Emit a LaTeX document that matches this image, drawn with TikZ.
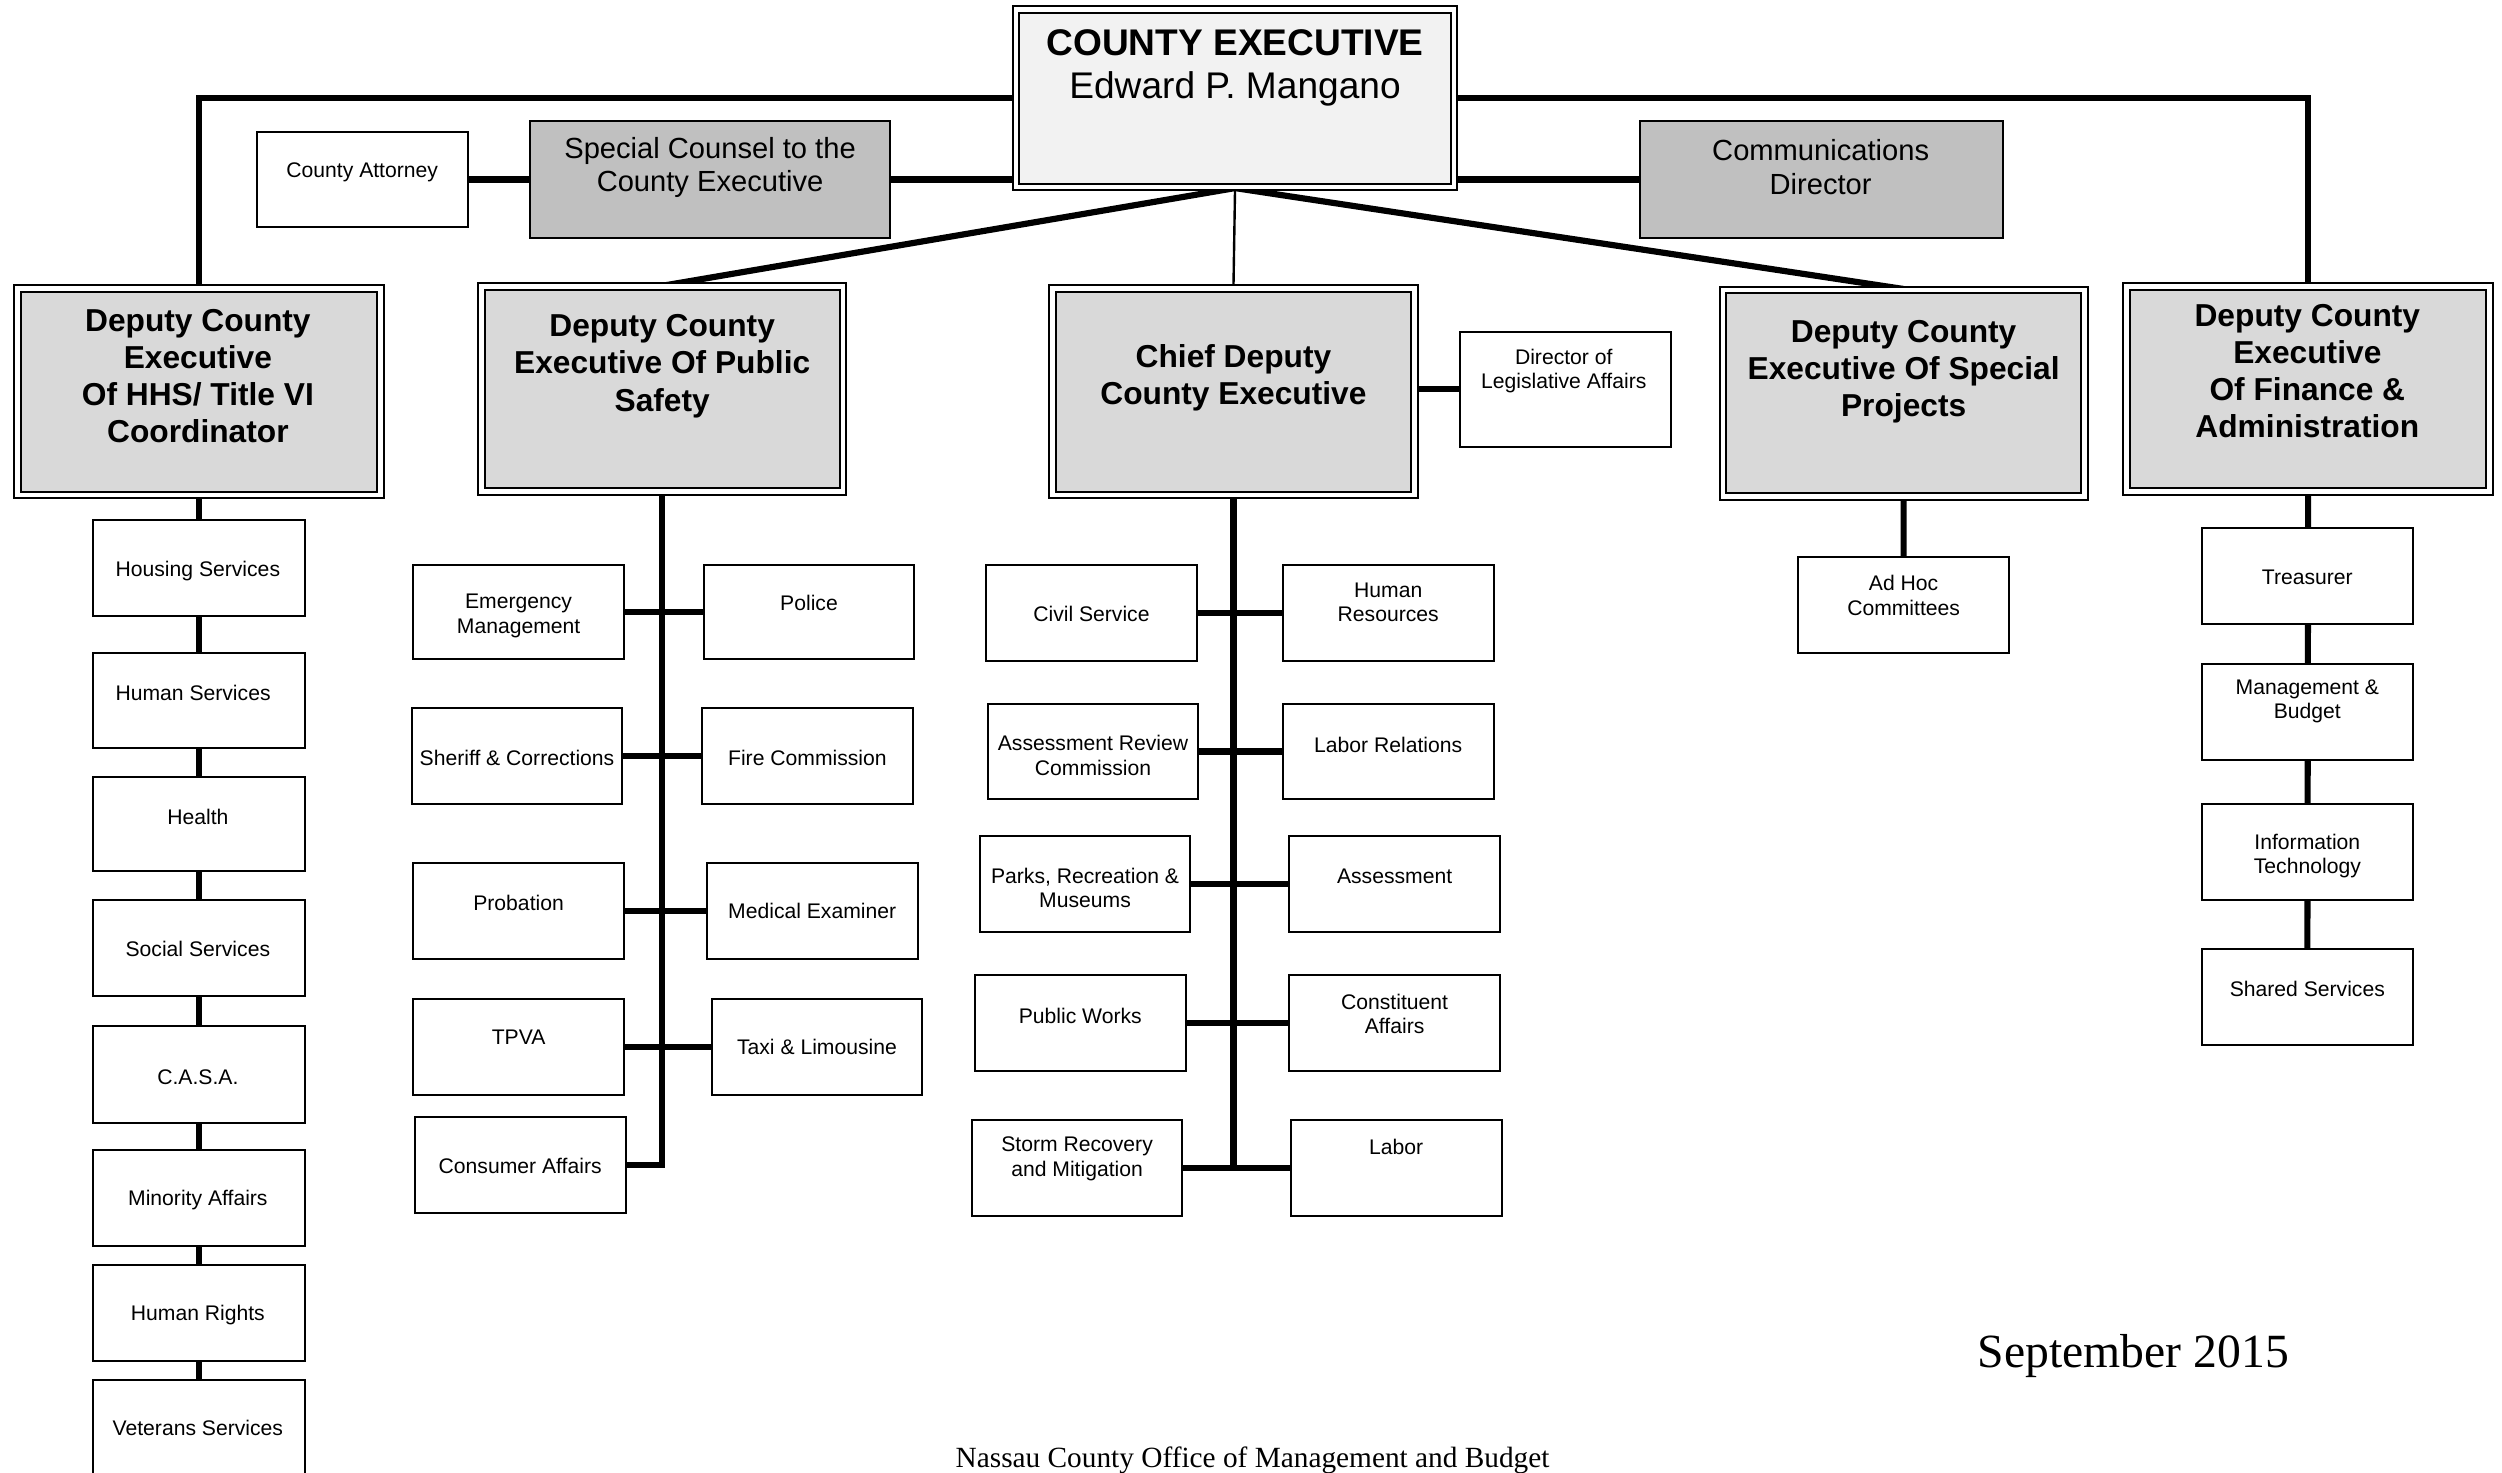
\documentclass[tikz,border=0pt]{standalone}
\usepackage{fontspec}
\setmainfont{Liberation Sans}
\newfontfamily\footfont{Liberation Serif}
\usetikzlibrary{fit,backgrounds}
\definecolor{execgray}{HTML}{F2F2F2}
\definecolor{staffgray}{HTML}{C0C0C0}
\definecolor{deputygray}{HTML}{D9D9D9}

% plain office box: name, top-left corner, bottom-right corner, text position, text
\newcommand\obox[5]{%
  \node[unitbox, fit={(#2) (#3)}] (#1) {};
  \node[smalltxt] (#1-t) at (#4) {#5};}

\begin{document}
\begin{tikzpicture}[x=0.8pt,y=-0.8pt,
  conn/.style={line width=3.1pt},
  thinconn/.style={line width=1.2pt},
  unitbox/.style={draw, line width=1pt, fill=white, inner sep=0pt},
  staffbox/.style={draw, line width=1pt, fill=staffgray, inner sep=0pt},
  deputybox/.style={draw, line width=1pt, double=white, double distance=2.4pt,
                    fill=deputygray, inner sep=0pt},
  execbox/.style={draw, line width=1pt, double=white, double distance=2.4pt,
                  fill=execgray, inner sep=0pt},
  smalltxt/.style={inner sep=0pt, align=center, yshift=-0.8pt,
                   font=\fontsize{10.6}{12.4}\selectfont},
  stafftxt/.style={inner sep=0pt, align=center, yshift=-0.3pt,
                   font=\fontsize{14.6}{16.8}\selectfont},
  deputytxt/.style={inner sep=0pt, align=center, font=\fontsize{15.9}{18.6}\selectfont\bfseries},
  exectxt/.style={inner sep=0pt, align=center, yshift=-1.6pt,
                  font=\fontsize{18.6}{21.6}\selectfont}]

\useasboundingbox (0,0) rectangle (1568,923);

% ---- top level ----
\node[execbox, fit={(636.75,5.75) (911.25,117.25)}] (ce) {};
\node[exectxt] (ce-t) at (774,40.5) {\textbf{COUNTY EXECUTIVE}\\Edward P. Mangano};

\obox{ca}{161,83}{293,142}{227,107}{County Attorney}
\node[staffbox, fit={(332,76) (558,149)}] (sc) {};
\node[stafftxt] (sc-t) at (445,104.5) {Special Counsel to the\\County Executive};
\node[staffbox, fit={(1028,76) (1255,149)}] (comm) {};
\node[stafftxt] (comm-t) at (1141,104.5) {Communications\\Director};

% ---- deputies ----
\node[deputybox, fit={(10.75,180.75) (238.25,310.25)}] (hhs) {};
\node[deputytxt] (hhs-t) at (124,235.5) {Deputy County\\Executive\\Of HHS/ Title VI\\Coordinator};
\node[deputybox, fit={(301.75,179.75) (528.25,308.25)}] (ps) {};
\node[deputytxt] (ps-t) at (415,229.5) {Deputy County\\Executive Of Public\\Safety};
\node[deputybox, fit={(659.75,180.75) (886.25,310.25)}] (cdx) {};
\node[deputytxt] (cdx-t) at (773,236.5) {Chief Deputy\\County Executive};
\node[deputybox, fit={(1079.75,181.75) (1306.25,311.25)}] (sp) {};
\node[deputytxt] (sp-t) at (1193,233) {Deputy County\\Executive Of Special\\Projects};
\node[deputybox, fit={(1332.75,179.75) (1560.25,308.25)}] (fin) {};
\node[deputytxt] (fin-t) at (1446,232.5) {Deputy County\\Executive\\Of Finance \&\\Administration};

\obox{leg}{915,208}{1047,280}{980,231.5}{Director of\\Legislative Affairs}

% ---- HHS departments ----
\obox{housing}{58,326}{191,386}{124,357}{Housing Services}
\obox{humsvc}{58,409}{191,469}{121,433}{Human Services}
\obox{health}{58,487}{191,546}{124,511}{Health}
\obox{social}{58,564}{191,624}{124,594}{Social Services}
\obox{casa}{58,643}{191,704}{124,674}{C.A.S.A.}
\obox{minority}{58,721}{191,781}{124,751}{Minority Affairs}
\obox{rights}{58,793}{191,853}{124,823}{Human Rights}
\obox{veterans}{58,865}{191,935}{124,894}{Veterans Services}

% ---- Public Safety departments ----
\obox{emerg}{259,354}{391,413}{325,385}{Emergency\\Management}
\obox{police}{441,354}{573,413}{507,377}{Police}
\obox{sheriff}{258,444}{390,504}{324,474}{Sheriff \& Corrections}
\obox{fire}{440,444}{572,504}{506,474}{Fire Commission}
\obox{probation}{259,541}{391,601}{325,565}{Probation}
\obox{medex}{443,541}{575,601}{509,570}{Medical Examiner}
\obox{tpva}{259,626}{391,686}{325,649}{TPVA}
\obox{taxi}{446,626}{578,686}{512,655}{Taxi \& Limousine}
\obox{consumer}{260,700}{392,760}{326,730}{Consumer Affairs}

% ---- Chief Deputy departments ----
\obox{civil}{618,354}{750,414}{684,384}{Civil Service}
\obox{hr}{804,354}{936,414}{870,376.5}{Human\\Resources}
\obox{arc}{619,441}{751,501}{685,472.5}{Assessment Review\\Commission}
\obox{laborrel}{804,441}{936,501}{870,466}{Labor Relations}
\obox{parks}{614,524}{746,584}{680,555.5}{Parks, Recreation \&\\Museums}
\obox{assess}{808,524}{940,584}{874,548}{Assessment}
\obox{pw}{611,611}{743,671}{677,636}{Public Works}
\obox{constit}{808,611}{940,671}{874,634.5}{Constituent\\Affairs}
\obox{storm}{609,702}{741,762}{675,725}{Storm Recovery\\and Mitigation}
\obox{labor}{809,702}{941,762}{875,718}{Labor}

% ---- Special Projects ----
\obox{adhoc}{1127,349}{1259,409}{1193,372}{Ad Hoc\\Committees}

% ---- Finance departments ----
\obox{treas}{1380,331}{1512,391}{1446,361}{Treasurer}
\obox{mgmt}{1380,416}{1512,476}{1446,438.5}{Management \&\\Budget}
\obox{it}{1380,504}{1512,564}{1446,535.5}{Information\\Technology}
\obox{shared}{1380,595}{1512,655}{1446,619}{Shared Services}

% ---- footer ----
\node[inner sep=0pt, font=\footfont\fontsize{23.9}{28}\selectfont] (date) at (1337,850) {September 2015};
\node[inner sep=0pt, font=\footfont\fontsize{14.7}{17}\selectfont] (office) at (785,915) {Nassau County Office of Management and Budget};

% ---- connectors ----
\begin{scope}[on background layer]
  \draw[conn] (ce.west) -| (hhs.north);
  \draw[conn] (ce.east) -| (fin.north);
  \draw[conn] (ca.east) -- (sc.west);
  \draw[conn] (sc.east) -- (sc.east -| ce.west);
  \draw[conn] (comm.west -| ce.east) -- (comm.west);
  \draw[conn] (ce.south) -- (ps.north);
  \draw[conn] (ce.south) -- (sp.north);
  \draw[thinconn] (ce.south) -- (cdx.north);
  \draw[conn] (leg.west) -- (leg.west -| cdx.east);

  \draw[conn] (hhs.south) -- (veterans.north);

  \draw[conn] (ps.south) -- (ps.south |- consumer.east) -- (consumer.east);
  \draw[conn] (emerg.east) -- (police.west);
  \draw[conn] (sheriff.east) -- (fire.west);
  \draw[conn] (probation.east) -- (medex.west);
  \draw[conn] (tpva.east) -- (taxi.west);

  \draw[conn] (cdx.south) -- (cdx.south |- storm.east);
  \draw[conn] (civil.east) -- (hr.west);
  \draw[conn] (arc.east) -- (laborrel.west);
  \draw[conn] (parks.east) -- (assess.west);
  \draw[conn] (pw.east) -- (constit.west);
  \draw[conn] (storm.east) -- (labor.west);

  \draw[conn] (sp.south) -- (adhoc.north);
  \draw[conn] (fin.south) -- (shared.north);
\end{scope}
\end{tikzpicture}
\end{document}
